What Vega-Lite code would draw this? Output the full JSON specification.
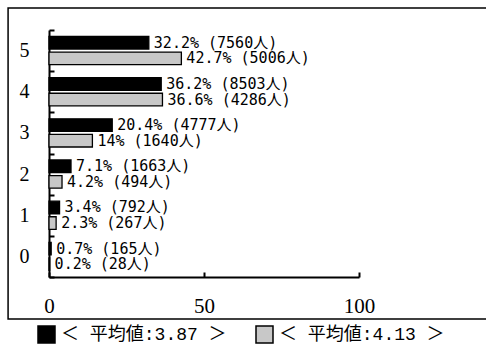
{
  "$schema": "https://vega.github.io/schema/vega-lite/v6.json",
  "autosize": "none",
  "width": 310,
  "height": 247,
  "padding": {"left": 49, "top": 30, "right": 127, "bottom": 69},
  "background": "white",
  "config": {"view": {"stroke": null}, "font": "Liberation Serif, Noto Sans CJK JP"},
  "resolve": {"scale": {"y": "independent"}, "axis": {"y": "independent"}},
  "layer": [
    {
      "data": {"values": [{"k": 1}]},
      "mark": {"type": "rect", "fill": "transparent", "stroke": "black", "strokeWidth": 1.5},
      "encoding": {
        "x": {
          "datum": -13.2, "type": "quantitative", "scale": {"domain": [0, 100], "nice": false},
          "axis": {
            "title": null, "values": [0, 50, 100], "labelFontSize": 21, "labelFont": "Liberation Serif",
            "labelColor": "black", "domainColor": "black", "domainWidth": 2, "tickColor": "black",
            "tickWidth": 2, "tickSize": -5, "labelPadding": 23, "grid": false, "labelFlush": false
          }
        },
        "x2": {"datum": 150},
        "y": {"datum": -0.17, "type": "quantitative", "scale": {"domain": [0, 1], "nice": false}, "axis": null},
        "y2": {"datum": 1.089}
      }
    },
    {
      "data": {"values": [
        {"cat": "5", "group": "＜ 平均値:3.87 ＞", "pct": 32.2, "label": "32.2% (7560人)"},
        {"cat": "5", "group": "＜ 平均値:4.13 ＞", "pct": 42.7, "label": "42.7% (5006人)"},
        {"cat": "4", "group": "＜ 平均値:3.87 ＞", "pct": 36.2, "label": "36.2% (8503人)"},
        {"cat": "4", "group": "＜ 平均値:4.13 ＞", "pct": 36.6, "label": "36.6% (4286人)"},
        {"cat": "3", "group": "＜ 平均値:3.87 ＞", "pct": 20.4, "label": "20.4% (4777人)"},
        {"cat": "3", "group": "＜ 平均値:4.13 ＞", "pct": 14, "label": "14% (1640人)"},
        {"cat": "2", "group": "＜ 平均値:3.87 ＞", "pct": 7.1, "label": "7.1% (1663人)"},
        {"cat": "2", "group": "＜ 平均値:4.13 ＞", "pct": 4.2, "label": "4.2% (494人)"},
        {"cat": "1", "group": "＜ 平均値:3.87 ＞", "pct": 3.4, "label": "3.4% (792人)"},
        {"cat": "1", "group": "＜ 平均値:4.13 ＞", "pct": 2.3, "label": "2.3% (267人)"},
        {"cat": "0", "group": "＜ 平均値:3.87 ＞", "pct": 0.7, "label": "0.7% (165人)"},
        {"cat": "0", "group": "＜ 平均値:4.13 ＞", "pct": 0.2, "label": "0.2% (28人)"}
      ]},
      "layer": [
        {
          "mark": {"type": "bar", "stroke": "black", "strokeWidth": 1.3},
          "encoding": {
            "y": {
              "field": "cat", "type": "nominal", "sort": ["5", "4", "3", "2", "1", "0"],
              "scale": {"paddingInner": 0, "paddingOuter": 0},
              "axis": {
                "title": null, "labelFontSize": 20, "labelFont": "Liberation Serif", "labelColor": "black",
                "domainColor": "black", "domainWidth": 2, "tickColor": "black", "tickWidth": 2,
                "tickSize": -5, "tickBand": "extent", "labelPadding": 25, "labelAngle": 0
              }
            },
            "yOffset": {
              "field": "group", "type": "nominal", "sort": ["＜ 平均値:3.87 ＞", "＜ 平均値:4.13 ＞"],
              "scale": {"paddingInner": 0.19, "paddingOuter": 0.42}
            },
            "x": {
              "field": "pct", "type": "quantitative",
              "scale": {"domain": [0, 100], "nice": false},
              "axis": {
                "title": null, "values": [0, 50, 100], "labelFontSize": 21, "labelFont": "Liberation Serif",
                "labelColor": "black", "domainColor": "black", "domainWidth": 2, "tickColor": "black",
                "tickWidth": 2, "tickSize": -5, "labelPadding": 23, "grid": false, "labelFlush": false
              }
            },
            "fill": {
              "field": "group", "type": "nominal",
              "scale": {"domain": ["＜ 平均値:3.87 ＞", "＜ 平均値:4.13 ＞"], "range": ["black", "#c8c8c8"]},
              "legend": {
                "orient": "none", "legendX": -12, "legendY": 295, "direction": "horizontal", "title": null,
                "symbolType": "square", "symbolSize": 289, "symbolStrokeColor": "black", "symbolStrokeWidth": 1.5,
                "labelFontSize": 18, "labelFont": "Liberation Mono, Noto Sans CJK JP", "labelColor": "black",
                "labelOffset": 5, "columnPadding": 26, "labelLimit": 300
              }
            }
          }
        },
        {
          "mark": {"type": "text", "align": "left", "baseline": "middle", "dx": 5, "fontSize": 15, "font": "DejaVu Sans Mono, Noto Sans CJK JP", "color": "black"},
          "encoding": {
            "y": {"field": "cat", "type": "nominal", "sort": ["5", "4", "3", "2", "1", "0"]},
            "yOffset": {"field": "group", "type": "nominal", "sort": ["＜ 平均値:3.87 ＞", "＜ 平均値:4.13 ＞"]},
            "x": {"field": "pct", "type": "quantitative"},
            "text": {"field": "label"}
          }
        }
      ]
    }
  ]
}
